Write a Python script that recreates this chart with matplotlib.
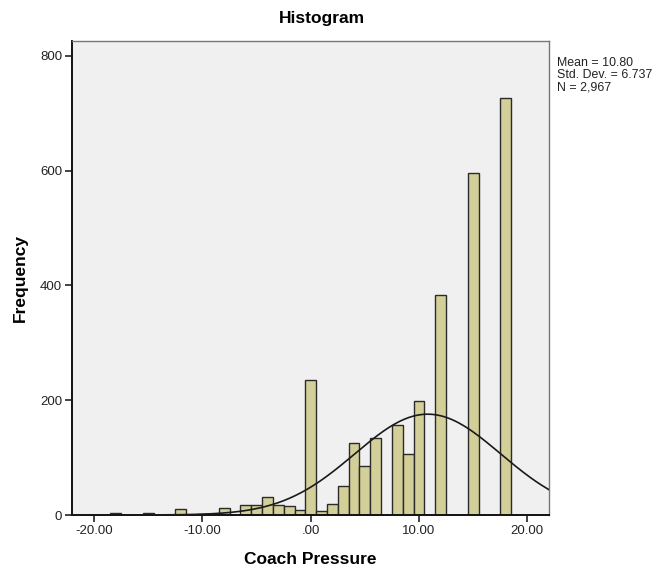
import numpy as np
import matplotlib
matplotlib.use("Agg")
import matplotlib.pyplot as plt

# Coach Pressure frequency table (bin width 1, bins centred on integers)
bin_centers = [-18, -15, -12, -10, -8, -6, -5, -4, -3, -2, -1, 0,
               1, 2, 3, 4, 5, 6, 8, 9, 10, 12, 15, 18]
counts = [3, 4, 10, 2, 12, 17, 17, 32, 17, 16, 8, 235,
          7, 20, 51, 125, 86, 135, 157, 107, 199, 384, 596, 727]

# summary statistics printed beside the plot
mean_val = 10.80
std_val = 6.737
n_val = 2967
bin_width = 1.0

xticks = [-20, -10, 0, 10, 20]
xtick_labels = ["-20.00", "-10.00", ".00", "10.00", "20.00"]
yticks = [0, 200, 400, 600, 800]

plt.rcParams['font.family'] = ['Liberation Sans', 'DejaVu Sans']

fig = plt.figure(figsize=(6.58, 5.70), dpi=100)
ax = fig.add_axes([72/658, 1 - 515/570, (549 - 72)/658, (515 - 41)/570])
ax.set_facecolor("#f0f0f0")

ax.bar(bin_centers, counts, width=bin_width, color="#d3cf98",
       edgecolor="#2b2b2b", linewidth=1.0, zorder=2)

# normal curve scaled to counts
xs = np.linspace(-22.1, 22.1, 400)
ys = n_val * bin_width / (std_val * np.sqrt(2 * np.pi)) * np.exp(-0.5 * ((xs - mean_val) / std_val) ** 2)
ax.plot(xs, ys, color="#1a1a1a", linewidth=1.2, zorder=3)

ax.set_xlim(-22.05, 22.0)
ax.set_ylim(0, 826)
ax.set_xticks(xticks)
ax.set_xticklabels(xtick_labels)
ax.set_yticks(yticks)
ax.tick_params(axis="both", direction="out", length=5, width=1.2,
               color="#222222", labelsize=9.5, labelcolor="#222222", pad=2)
for side in ["left", "bottom"]:
    ax.spines[side].set_color("#111111")
    ax.spines[side].set_linewidth(1.4)
for side in ["top", "right"]:
    ax.spines[side].set_color("#777777")
    ax.spines[side].set_linewidth(1.0)

ax.set_xlabel("Coach Pressure", fontsize=12.5, fontweight="bold", labelpad=11)
ax.set_ylabel("Frequency", fontsize=12.5, fontweight="bold", labelpad=9)
fig.text(0.49, 1 - 18/570, "Histogram", fontsize=12.5, fontweight="bold",
         ha="center", va="center")

fig.text(557/658, 1 - 57/570,
         "Mean = %.2f\nStd. Dev. = %.3f\nN = %s" % (mean_val, std_val, format(n_val, ",")),
         fontsize=8.9, ha="left", va="top", linespacing=1.0, color="#222222")

fig.savefig("out.png", dpi=100, facecolor="white")
